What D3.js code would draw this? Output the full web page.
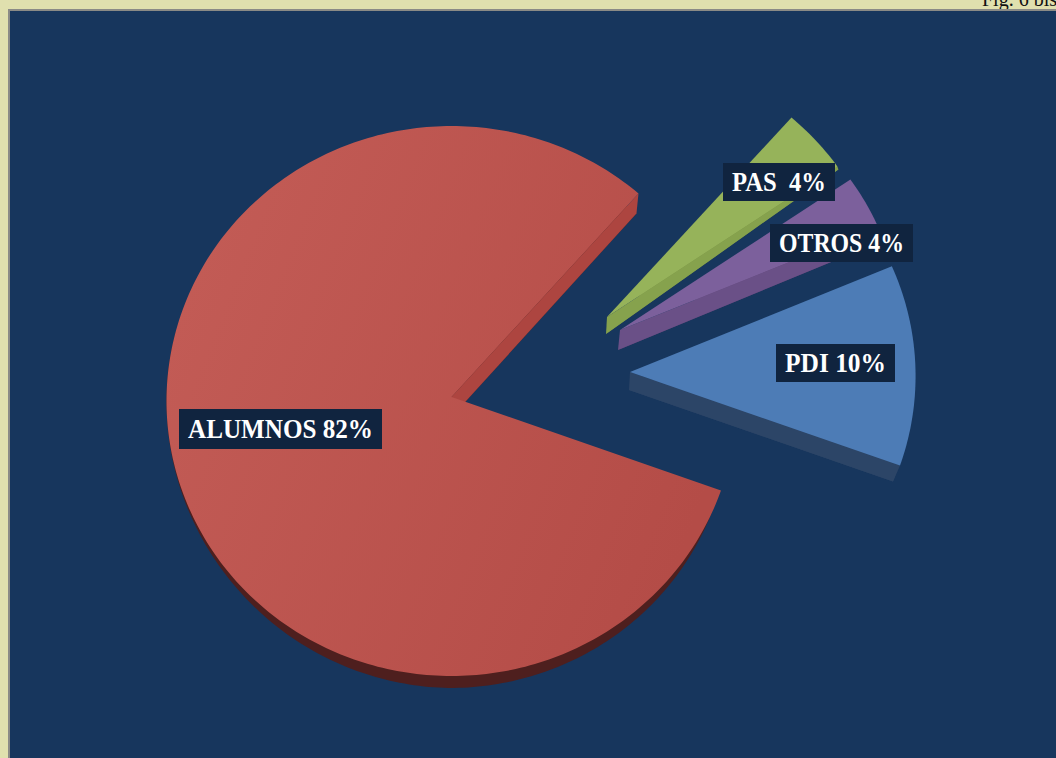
<!DOCTYPE html>
<meta charset="utf-8">
<style>
    html, body { margin: 0; padding: 0; background: #e0e0ae; overflow: hidden; }
    svg { display: block; }
    .tag { font-family: "Liberation Serif", serif; font-weight: bold; font-size: 27px; fill: #fff; white-space: pre; }
    .fig { font-family: "Liberation Serif", serif; font-size: 20px; fill: #111; }
</style>
<svg width="1056" height="758"></svg>
<script src="https://d3js.org/d3.v7.min.js"></script>
<script>

    // chart data, in drawing order
    var categories = ["ALUMNOS", "PAS", "OTROS", "PDI"];
    var shares = [82, 4, 4, 10];
    var labels = ["ALUMNOS 82%", "PAS  4%", "OTROS 4%", "PDI 10%"];

    var topFill = ["url(#redTop)", "#96b35a", "#7c609c", "#4d7cb6"];
    var innerFill = ["#ad4540", "#86a24d", "#6a5087", "#2c4567"];
    var rimFill = ["#4e1f1e", "#6f8640", "#543f6c", "#2c4567"];

    var svg = d3.select("svg"),
            width = +svg.attr("width"),
            height = +svg.attr("height");

    var defs = svg.append("defs");
    var grad = defs.append("linearGradient").attr("id", "redTop")
            .attr("x1", 0).attr("y1", 0.2).attr("x2", 1).attr("y2", 0.6);
    grad.append("stop").attr("offset", 0).attr("stop-color", "#c35c56");
    grad.append("stop").attr("offset", 1).attr("stop-color", "#b44c47");

    // page background and the navy panel
    svg.append("text").attr("class", "fig").attr("x", 982).attr("y", 6).text("Fig. 6 bis");
    svg.append("rect").attr("x", 9).attr("y", 10).attr("width", width).attr("height", height)
            .attr("fill", "#17365d").attr("stroke", "#8b8b86").attr("stroke-width", 2);

    var rx = 287, ry = 275, deg = Math.PI / 180;

    // each exploded piece: apex position, size and how far the base sits under the top
    var pieces = [
        {ax: 451.5, ay: 397, kx: 0.993, ky: 1, apexDrop: [0, 20], stops: [109, 180, 225, 270, 401], dropX: [-6, -3, 0, 0, -2], dropY: [13, 12, 7, 0, 20]},
        {ax: 607, ay: 317, kx: 0.98, ky: 0.98, apexDrop: [-1, 17], stops: [401, 415], dropX: [0, 1], dropY: [3, 3]},
        {ax: 620, ay: 330, kx: 0.98, ky: 0.98, apexDrop: [-2, 20], stops: [415, 426.5], dropX: [0, -2], dropY: [19, 17]},
        {ax: 630, ay: 372, kx: 0.995, ky: 1, apexDrop: [-1, 18], stops: [426.5, 469], dropX: [-2, -7], dropY: [17, 16]}
    ];

    var arcs = d3.pie().sort(null)(shares);

    // the picture is in perspective, so equal shares do not span equal angles on screen
    var viewAngle = d3.scaleLinear()
            .domain([0, arcs[0].endAngle, arcs[1].endAngle, arcs[2].endAngle, 2 * Math.PI])
            .range([109, 401, 415, 426.5, 469]);

    var line = d3.line();

    function rimPoint(p, t) {
        return [p.ax + p.kx * rx * Math.sin(t * deg),
                p.ay + 4 - p.ky * ry * Math.cos(t * deg)];
    }

    function rimSteps(a, b) {
        var n = Math.ceil(Math.abs(b - a));
        return d3.range(n + 1).map(function(i) { return a + (b - a) * i / n; });
    }

    var g = svg.selectAll("g.piece")
            .data(arcs)
            .enter().append("g").attr("class", "piece");

    g.each(function(d, i) {
        var p = pieces[i],
                a0 = viewAngle(d.startAngle),
                a1 = viewAngle(d.endAngle),
                sel = d3.select(this);

        var sx = d3.scaleLinear().domain(p.stops).range(p.dropX),
                sy = d3.scaleLinear().domain(p.stops).range(p.dropY);

        function lowPoint(t) {
            var q = rimPoint(p, t);
            return [q[0] + sx(t), q[1] + sy(t)];
        }

        var apex = [p.ax, p.ay],
                apexLow = [p.ax + p.apexDrop[0], p.ay + p.apexDrop[1]];

        // base outline, sits under everything of this piece
        var base = [apexLow].concat(rimSteps(a0, a1).map(lowPoint));
        sel.append("path").attr("d", line(base) + "Z").attr("fill", rimFill[i]);

        // the cut face that shows, always along the far end of the piece
        var face = [apex, rimPoint(p, a1), lowPoint(a1), apexLow];
        sel.append("path").attr("d", line(face) + "Z").attr("fill", innerFill[i]);

        var top = [apex].concat(rimSteps(a0, a1).map(function(t) { return rimPoint(p, t); }));
        sel.append("path").attr("d", line(top) + "Z").attr("fill", topFill[i]);
    });

    // label boxes
    var tagBox = [[179, 409, 203, 40], [723, 163, 112, 38], [770, 224, 143, 38], [776, 344, 119, 38]];

    var tag = svg.selectAll("g.tag-box")
            .data(labels)
            .enter().append("g").attr("class", "tag-box");

    tag.append("rect")
            .attr("x", function(d, i) { return tagBox[i][0]; })
            .attr("y", function(d, i) { return tagBox[i][1]; })
            .attr("width", function(d, i) { return tagBox[i][2]; })
            .attr("height", function(d, i) { return tagBox[i][3]; })
            .attr("fill", "#10243f");

    tag.append("text")
            .attr("class", "tag")
            .attr("x", function(d, i) { return tagBox[i][0] + tagBox[i][2] / 2; })
            .attr("y", function(d, i) { return tagBox[i][1] + tagBox[i][3] / 2 + 9; })
            .attr("text-anchor", "middle")
            .attr("textLength", function(d, i) { return tagBox[i][2] - 18; })
            .attr("lengthAdjust", "spacingAndGlyphs")
            .text(function(d) { return d; });

</script>
